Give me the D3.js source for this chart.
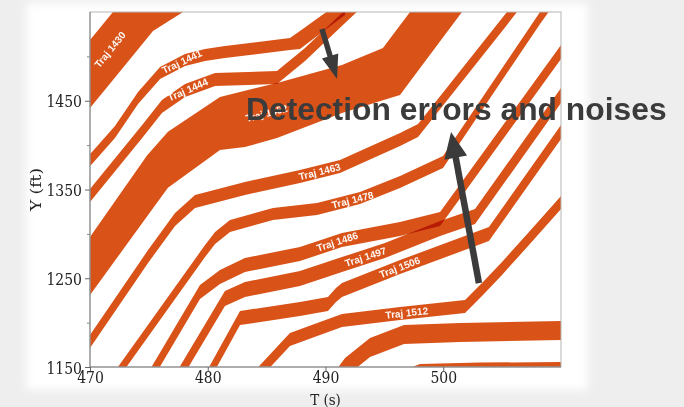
<!DOCTYPE html>
<html>
<head>
<meta charset="utf-8">
<script src="https://cdn.jsdelivr.net/npm/d3@7"></script>
<style>
html,body{margin:0;padding:0;background:#eeeeee;}
svg{display:block;}
</style>
</head>
<body>
<svg id="chart" width="684" height="407"></svg>
<script>
// ---------------- DATA ----------------
const xDomain = [470, 510];
const yDomain = [1150, 1550];
const xTicks = [470, 480, 490, 500];
const yTicks = [1150, 1250, 1350, 1450];
const yMinorTicks = [1200, 1300, 1400, 1500];

// each trajectory: time samples (s), front position Y (ft), occupied length (ft)
const t1430 = [468.0, 470.0, 471.95, 475.35, 477.9, 481.0];
const front1430 = [1485.8, 1518.4, 1550.0, 1605.2, 1646.9, 1697.6];
const len1430 = [76.7, 76.6, 76.6, 76.6, 96.9, 131.8];

const t1441 = [469.15, 470.17, 472.12, 474.08, 475.95, 478.07, 479.77, 481.46, 486.98, 487.83, 489.96, 491.66];
const front1441 = [1378.7, 1392.2, 1421.5, 1459.8, 1488.0, 1502.7, 1508.3, 1511.7, 1520.7, 1528.6, 1548.9, 1564.6];
const len1441 = [13.5, 13.5, 13.5, 13.5, 13.5, 13.5, 13.5, 13.5, 13.5, 20.3, 19.2, 18.0];

const t1444 = [469.15, 470.0, 474.5, 476.11, 478.07, 480.62, 485.88, 488.26, 491.66, 492.93];
const front1444 = [1335.9, 1350.5, 1423.8, 1450.8, 1468.8, 1481.2, 1483.5, 1509.4, 1552.2, 1568.0];
const len1444 = 14.6;

const t1452 = [469.15, 470.0, 474.84, 476.62, 481.04, 483.16, 485.88, 491.4, 494.88, 496.33, 497.18, 501.59, 502.27];
const front1452 = [1280.7, 1296.5, 1388.2, 1415.1, 1454.2, 1461.4, 1470.0, 1490.3, 1509.4, 1535.0, 1550.0, 1627.7, 1640.1];
const len1452 = [67.6, 65.4, 68.7, 63.1, 59.7, 63.6, 62.0, 54.1, 58.9, 78.5, 78.4, 77.7, 77.7];

const t1463 = [469.15, 470.0, 474.93, 477.22, 478.92, 483.16, 487.83, 491.23, 496.33, 497.86, 505.41, 506.26];
const front1463 = [1169.1, 1186.0, 1281.8, 1323.5, 1343.8, 1358.4, 1372.0, 1383.2, 1413.6, 1423.8, 1550.0, 1564.6];
const len1463 = 14.6;

const t1478 = [471.7, 479.77, 480.62, 481.89, 485.54, 489.28, 492.93, 496.33, 499.98, 508.22, 509.07];
const front1478 = [1137.6, 1287.4, 1302.1, 1315.6, 1329.1, 1334.8, 1347.2, 1365.2, 1387.7, 1550.0, 1565.8];
const len1478 = 13.5;

const t1486 = [474.67, 479.34, 481.04, 483.16, 487.83, 491.4, 496.33, 499.73, 510.0, 511.6];
const front1486 = [1137.6, 1242.4, 1259.3, 1272.8, 1285.2, 1301.0, 1313.4, 1324.6, 1512.8, 1542.1];
const len1486 = 15.8;

const t1497 = [477.05, 481.46, 483.16, 487.83, 491.4, 495.05, 499.73, 502.7, 510.0, 513.3];
const front1497 = [1137.6, 1235.6, 1245.7, 1258.2, 1273.9, 1289.7, 1314.5, 1328.0, 1464.3, 1526.3];
const len1497 = 16.9;

const t1506 = [479.6, 482.74, 487.83, 490.21, 490.89, 491.4, 496.33, 503.88, 510.0, 512.46];
const front1506 = [1137.6, 1213.1, 1223.2, 1228.8, 1239.0, 1244.6, 1270.5, 1307.7, 1422.7, 1468.8];
const len1506 = 15.8;

const t1512 = [483.42, 486.98, 489.53, 491.4, 496.33, 501.85, 503.29, 504.99, 507.28, 510.0, 511.6];
const front1512 = [1137.6, 1188.3, 1200.7, 1209.7, 1217.6, 1225.5, 1244.6, 1268.3, 1302.1, 1342.6, 1367.4];
const len1512 = 14.6;

const tLowA = [489.96, 491.66, 493.78, 496.67, 501.42, 510.0, 511.6];
const frontLowA = [1129.7, 1160.1, 1182.6, 1197.3, 1199.5, 1201.8, 1202.9];
const lenLowA = 21.4;

const tLowB = [496.75, 498.02, 503.12, 510.0, 511.6];
const frontLowB = [1146.6, 1153.4, 1155.0, 1155.6, 1155.6];
const lenLowB = 16.9;

const trajLabels = ["Traj 1430", "Traj 1441", "Traj 1444", "Traj 1452", "Traj 1463", "Traj 1478", "Traj 1486", "Traj 1497", "Traj 1506", "Traj 1512", null, null];
const labelTimes = [471.7, 477.8, 478.3, 485.0, 489.5, 492.3, 491.0, 493.4, 496.3, 496.9, null, null];

// annotation
const annotationText = "Detection errors and noises";
const annotationT = 483.25, annotationY = 1428.3;
const arrowStartT = [489.7, 503.03];
const arrowStartY = [1530.8, 1244.6];
const arrowEndT = [490.98, 500.66];
const arrowEndY = [1474.5, 1414.8];

// ---------------- BUILD ----------------
const trajectories = [
  {t: t1430, front: front1430, len: len1430},
  {t: t1441, front: front1441, len: len1441},
  {t: t1444, front: front1444, len: len1444},
  {t: t1452, front: front1452, len: len1452},
  {t: t1463, front: front1463, len: len1463},
  {t: t1478, front: front1478, len: len1478},
  {t: t1486, front: front1486, len: len1486},
  {t: t1497, front: front1497, len: len1497},
  {t: t1506, front: front1506, len: len1506},
  {t: t1512, front: front1512, len: len1512},
  {t: tLowA, front: frontLowA, len: lenLowA},
  {t: tLowB, front: frontLowB, len: lenLowB}
].map((d, i) => ({...d, label: trajLabels[i], labelT: labelTimes[i]}));

const W = 684, H = 407;
const m = {left: 90, right: 561, top: 12, bottom: 367};
const x = d3.scaleLinear().domain(xDomain).range([m.left, m.right]);
const y = d3.scaleLinear().domain(yDomain).range([m.bottom, m.top]);
const bandColor = "#D95319";
const inkColor = "#3b3b3b";

const svg = d3.select("#chart");
const defs = svg.append("defs");
const f = defs.append("filter").attr("id", "soft").attr("x", "-5%").attr("y", "-5%").attr("width", "110%").attr("height", "110%");
f.append("feGaussianBlur").attr("stdDeviation", 4);
defs.append("clipPath").attr("id", "plotclip")
  .append("rect").attr("x", m.left).attr("y", m.top)
  .attr("width", m.right - m.left).attr("height", m.bottom - m.top);

svg.append("rect").attr("width", W).attr("height", H).attr("fill", "#eeeeee");
svg.append("rect").attr("x", 26).attr("y", 3).attr("width", 562).attr("height", 387)
  .attr("fill", "#ffffff").attr("filter", "url(#soft)");
svg.append("rect").attr("x", m.left).attr("y", m.top)
  .attr("width", m.right - m.left).attr("height", m.bottom - m.top).attr("fill", "#ffffff");

function lenAt(tr, i) { return Array.isArray(tr.len) ? tr.len[i] : tr.len; }
function interp(ts, vs, t) {
  if (t <= ts[0]) return vs[0];
  for (let i = 1; i < ts.length; i++) {
    if (t <= ts[i]) { const k = (t - ts[i-1]) / (ts[i] - ts[i-1]); return vs[i-1] + k * (vs[i] - vs[i-1]); }
  }
  return vs[vs.length - 1];
}

const bands = svg.append("g").attr("clip-path", "url(#plotclip)");
const area = d3.area().x(d => x(d.t)).y0(d => y(d.rear)).y1(d => y(d.front)).curve(d3.curveLinear);
trajectories.forEach(tr => {
  const pts = tr.t.map((t, i) => ({t: t, front: tr.front[i], rear: tr.front[i] - lenAt(tr, i)}));
  bands.append("path").datum(pts).attr("d", area)
    .attr("fill", bandColor).style("mix-blend-mode", "multiply");
});

// labels along bands
const labelsG = svg.append("g").attr("clip-path", "url(#plotclip)");
trajectories.forEach(tr => {
  if (!tr.label) return;
  const lens = tr.t.map((t, i) => lenAt(tr, i));
  const center = t => interp(tr.t, tr.front, t) - interp(tr.t, lens, t) / 2;
  const t0 = tr.labelT;
  const px = x(t0), py = y(center(t0));
  const ax = x(t0 + 0.4) - x(t0 - 0.4), ay = y(center(t0 + 0.4)) - y(center(t0 - 0.4));
  const ang = Math.atan2(ay, ax) * 180 / Math.PI;
  labelsG.append("text")
    .attr("transform", `translate(${px},${py}) rotate(${ang})`)
    .attr("text-anchor", "middle").attr("dy", "0.36em")
    .attr("font-family", "Liberation Sans, Arial, sans-serif").attr("font-weight", "bold")
    .attr("font-size", 10).attr("fill", "#ffffff").attr("fill-opacity", 0.95)
    .text(tr.label);
});

// frame
svg.append("rect").attr("x", m.left).attr("y", m.top)
  .attr("width", m.right - m.left).attr("height", m.bottom - m.top)
  .attr("fill", "none").attr("stroke", "#b5b5b5").attr("stroke-width", 1);
svg.append("line").attr("x1", m.left).attr("x2", m.left).attr("y1", m.top).attr("y2", m.bottom).attr("stroke", "#808080");
svg.append("line").attr("x1", m.left).attr("x2", m.right).attr("y1", m.bottom).attr("y2", m.bottom).attr("stroke", "#808080");

// axes
const gy = svg.append("g").attr("transform", `translate(${m.left},0)`)
  .call(d3.axisLeft(y).tickValues(yTicks).tickSize(5).tickPadding(3).tickFormat(d3.format("d")));
gy.select(".domain").remove();
gy.attr("font-family", "DejaVu Serif, serif").attr("font-size", 14);
gy.selectAll("line").attr("stroke", "#666");
gy.selectAll("text").attr("fill", "#222").attr("dy", "0.36em").attr("transform", "scale(1,1.22)");

const gym = svg.append("g").attr("transform", `translate(${m.left},0)`)
  .call(d3.axisLeft(y).tickValues(yMinorTicks).tickSize(3).tickFormat(""));
gym.select(".domain").remove();
gym.selectAll("line").attr("stroke", "#888");

const gx = svg.append("g").attr("transform", `translate(0,${m.bottom})`)
  .call(d3.axisBottom(x).tickValues(xTicks).tickSize(4).tickFormat(d3.format("d")));
gx.select(".domain").remove();
gx.attr("font-family", "DejaVu Serif, serif").attr("font-size", 14);
gx.selectAll("line").attr("stroke", "#666");
gx.selectAll("text").attr("fill", "#222").attr("y", 13.2).attr("dy", "0").attr("transform", "scale(1,1.22)");

svg.append("text")
  .attr("transform", `translate(36,${(m.top + m.bottom) / 2}) scale(1,1.22) rotate(-90)`)
  .attr("text-anchor", "middle").attr("dy", "0.35em")
  .attr("font-family", "DejaVu Serif, serif").attr("font-size", 14).attr("fill", "#222")
  .text("Y (ft)");
svg.append("text")
  .attr("transform", `translate(${(m.left + m.right) / 2},404.5) scale(1,1.15)`)
  .attr("text-anchor", "middle")
  .attr("font-family", "DejaVu Serif, serif").attr("font-size", 13.5).attr("fill", "#222")
  .text("T (s)");

// annotation
svg.append("text")
  .attr("x", x(annotationT)).attr("y", y(annotationY))
  .attr("font-family", "Liberation Sans, Arial, sans-serif").attr("font-weight", "bold")
  .attr("font-size", 31.8).attr("fill", inkColor)
  .text(annotationText);

const arrowStyle = [{head: 24, half: 8.5, w: 5.5}, {head: 26, half: 11.5, w: 6.5}];
arrowStartT.forEach((st, i) => {
  const sx = x(st), sy = y(arrowStartY[i]);
  const ex = x(arrowEndT[i]), ey = y(arrowEndY[i]);
  const dx = ex - sx, dy = ey - sy, L = Math.hypot(dx, dy);
  const ux = dx / L, uy = dy / L, nx = -uy, ny = ux;
  const s = arrowStyle[i];
  const bx = ex - ux * s.head, by = ey - uy * s.head;
  svg.append("line").attr("x1", sx).attr("y1", sy).attr("x2", bx + ux).attr("y2", by + uy)
    .attr("stroke", inkColor).attr("stroke-width", s.w);
  svg.append("path")
    .attr("d", `M${ex},${ey}L${bx + nx * s.half},${by + ny * s.half}L${bx - nx * s.half},${by - ny * s.half}Z`)
    .attr("fill", inkColor);
});
</script>
</body>
</html>
